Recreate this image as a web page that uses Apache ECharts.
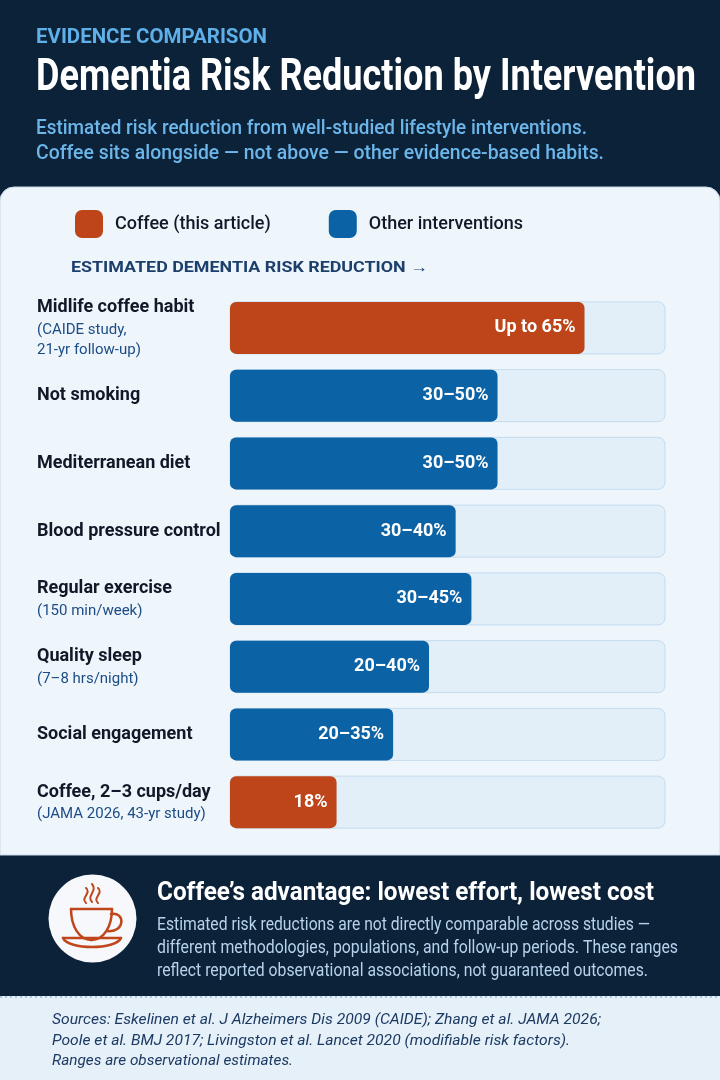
<!DOCTYPE html>
<html>
<head>
<meta charset="utf-8">
<script src="https://cdn.jsdelivr.net/npm/echarts@6/dist/echarts.min.js"></script>
<style>
html,body{margin:0;padding:0;background:#0c2239;}
#chart{width:720px;height:1080px;}
</style>
</head>
<body>
<div id="chart"></div>
<script>
// ---- data ----
const categories = ['Midlife coffee habit', 'Not smoking', 'Mediterranean diet', 'Blood pressure control', 'Regular exercise', 'Quality sleep', 'Social engagement', 'Coffee, 2–3 cups/day'];
const notes = ['(CAIDE study,\n21-yr follow-up)', '', '', '', '(150 min/week)', '(7–8 hrs/night)', '', '(JAMA 2026, 43-yr study)'];
const coffeeValues = [65.2, null, null, null, null, null, null, 19.6];
const otherValues = [null, 49.2, 49.2, 41.5, 44.4, 36.6, 30.0, null];
const valueLabels = ['Up to 65%', '30–50%', '30–50%', '30–40%', '30–45%', '20–40%', '20–35%', '18%'];
const seriesNames = ['Coffee (this article)', 'Other interventions'];
const axisMax = 80;

// ---- helpers ----
const FONT = 'Roboto, "Noto Sans", sans-serif';
const mctx = document.createElement('canvas').getContext('2d');
function fitScale(text, weight, size, style, target) {
  mctx.font = style + ' ' + weight + ' ' + size + 'px ' + FONT;
  const w = mctx.measureText(text).width;
  return w > 0 ? target / w : 1;
}
function txt(text, x, y, size, weight, color, target, italic) {
  const st = italic ? 'italic' : 'normal';
  return {
    type: 'text', x: x, y: y, z: 5,
    scaleX: target ? fitScale(text, weight, size, st, target) : 1,
    style: { text: text, fill: color, fontSize: size, fontWeight: weight, fontStyle: st, fontFamily: FONT, align: 'left', verticalAlign: 'middle' }
  };
}
const CUP = '#c0461b';
function curve(x1, y1, cpx1, cpy1, cpx2, cpy2, x2, y2, w) {
  return { type: 'bezierCurve', z: 3, shape: { x1, y1, cpx1, cpy1, cpx2, cpy2, x2, y2 }, style: { fill: null, stroke: CUP, lineWidth: w || 2.5, lineCap: 'round' } };
}

const chart = echarts.init(document.getElementById('chart'), null, { renderer: 'canvas' });

const labelStyle = {
  show: true, position: 'insideRight', distance: 9,
  color: '#ffffff', fontSize: 18, fontWeight: 700, fontFamily: FONT,
  formatter: p => valueLabels[p.dataIndex]
};

const graphics = [
  // panels
  { type: 'rect', z: 0, shape: { x: 0, y: 187, width: 720, height: 668, r: [14, 14, 0, 0] }, style: { fill: '#eef5fb', stroke: '#c9d8e6', lineWidth: 1 } },
  { type: 'rect', z: 0, shape: { x: 0, y: 996, width: 720, height: 84 }, style: { fill: '#e5f0f9' } },
  { type: 'line', z: 1, shape: { x1: 0, y1: 997, x2: 720, y2: 997 }, style: { stroke: '#9dbcd8', lineWidth: 1.5, lineDash: [2, 3] } },
  // header
  txt('EVIDENCE COMPARISON', 36, 38, 20, 700, '#5fb0e8', 231),
  txt('Dementia Risk Reduction by Intervention', 36, 79, 45, 700, '#ffffff', 660),
  txt('Estimated risk reduction from well-studied lifestyle interventions.', 36, 129, 20, 500, '#6cb6ea', 551),
  txt('Coffee sits alongside — not above — other evidence-based habits.', 36, 154, 20, 500, '#6cb6ea', 568),
  // axis title
  txt('ESTIMATED DEMENTIA RISK REDUCTION →', 71, 268, 15, 700, '#1d3f6c', 357),
  // bottom section: coffee icon
  { type: 'circle', z: 2, shape: { cx: 92.5, cy: 918.5, r: 44 }, style: { fill: '#f6f8fb' } },
  { type: 'line', z: 3, shape: { x1: 71, y1: 909, x2: 112, y2: 909 }, style: { stroke: CUP, lineWidth: 2.5, lineCap: 'round' } },
  curve(71, 909, 71, 926, 79, 940, 91.5, 940),
  curve(112, 909, 112, 926, 104, 940, 91.5, 940),
  curve(111, 914, 125, 911, 126, 933, 107, 931),
  { type: 'line', z: 3, shape: { x1: 63, y1: 938, x2: 121, y2: 938 }, style: { stroke: CUP, lineWidth: 2.5, lineCap: 'round' } },
  curve(63, 938, 68, 950, 116, 950, 121, 938),
  curve(86, 903, 80, 898, 92, 893, 86, 888, 2),
  curve(92, 902, 86, 896, 98, 891, 92, 884, 2),
  curve(98, 903, 92, 898, 104, 893, 98, 888, 2),
  // bottom section: text
  txt('Coffee’s advantage: lowest effort, lowest cost', 157, 893, 26, 700, '#ffffff', 497),
  txt('Estimated risk reductions are not directly comparable across studies —', 157, 925, 18, 400, '#b7d2ec', 493),
  txt('different methodologies, populations, and follow-up periods. These ranges', 157, 948.5, 18, 400, '#b7d2ec', 521),
  txt('reflect reported observational associations, not guaranteed outcomes.', 157, 971.5, 18, 400, '#b7d2ec', 491),
  // sources
  txt('Sources: Eskelinen et al. J Alzheimers Dis 2009 (CAIDE); Zhang et al. JAMA 2026;', 52, 1020, 15, 400, '#1d3a63', 549, true),
  txt('Poole et al. BMJ 2017; Livingston et al. Lancet 2020 (modifiable risk factors).', 52, 1041, 15, 400, '#1d3a63', 518, true),
  txt('Ranges are observational estimates.', 52, 1061, 15, 400, '#1d3a63', 241, true)
];

const option = {
  backgroundColor: '#0c2239',
  animation: false,
  graphic: graphics,
  legend: {
    data: seriesNames, left: 70, top: 205, itemWidth: 28, itemHeight: 28, itemGap: 58,
    icon: 'roundRect', selectedMode: false,
    textStyle: { color: '#111827', fontSize: 18, fontWeight: 500, fontFamily: FONT, padding: [0, 0, 0, 7] }
  },
  grid: { left: 230, right: 55, top: 294, bottom: 244 },
  xAxis: { type: 'value', min: 0, max: axisMax, show: false },
  yAxis: {
    type: 'category', inverse: true, data: categories,
    axisLine: { show: false }, axisTick: { show: false }, splitLine: { show: false },
    axisLabel: {
      align: 'left', margin: 193,
      formatter: (v, i) => {
        let s = '{n|' + v + '}';
        if (notes[i]) s += '\n' + notes[i].split('\n').map(l => '{s|' + l + '}').join('\n');
        return s;
      },
      rich: {
        n: { fontSize: 18, fontWeight: 700, color: '#111827', fontFamily: FONT, lineHeight: 25, align: 'left' },
        s: { fontSize: 15, fontWeight: 400, color: '#1c4c86', fontFamily: FONT, lineHeight: 20, align: 'left' }
      }
    }
  },
  series: [
    {
      name: seriesNames[0], type: 'bar', data: coffeeValues, barWidth: 52, barGap: '-100%',
      showBackground: true,
      backgroundStyle: { color: '#e2eff9', borderColor: '#c3dbef', borderWidth: 1, borderRadius: 7 },
      itemStyle: { color: '#bd4519', borderRadius: 6 },
      label: labelStyle
    },
    {
      name: seriesNames[1], type: 'bar', data: otherValues, barWidth: 52, barGap: '-100%',
      itemStyle: { color: '#0b62a5', borderRadius: 6 },
      label: labelStyle
    }
  ]
};
chart.setOption(option);
</script>
</body>
</html>
